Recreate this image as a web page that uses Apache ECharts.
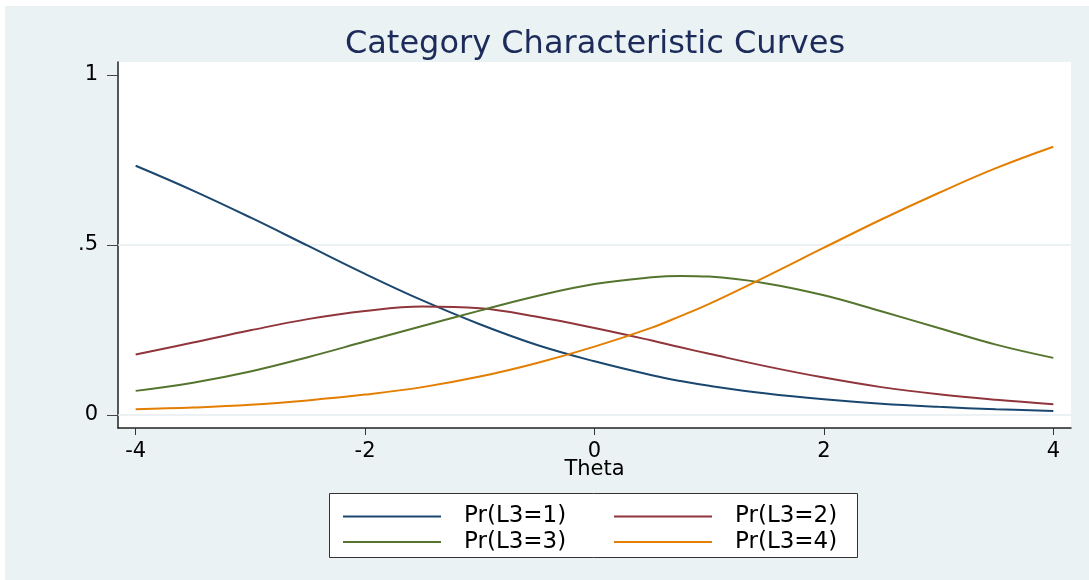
<!DOCTYPE html>
<html>
<head>
<meta charset="utf-8">
<script src="https://cdn.jsdelivr.net/npm/echarts@6/dist/echarts.min.js"></script>
<style>
  html, body { margin: 0; padding: 0; background: #ffffff; }
  #chart { width: 1089px; height: 580px; }
</style>
</head>
<body>
<div id="chart"></div>
<script>
// Ability grid (theta) and the four category probability curves
const theta = [-4, -3.5, -3, -2.5, -2, -1.5, -1, -0.5, 0, 0.5, 0.75, 1, 1.5, 2, 2.5, 3, 3.5, 4];
const prL3eq1 = [0.733, 0.660, 0.581, 0.498, 0.415, 0.337, 0.267, 0.206, 0.158, 0.117, 0.100, 0.086, 0.063, 0.046, 0.033, 0.024, 0.017, 0.012];
const prL3eq2 = [0.178, 0.213, 0.249, 0.282, 0.306, 0.319, 0.314, 0.289, 0.256, 0.219, 0.199, 0.180, 0.143, 0.110, 0.082, 0.061, 0.045, 0.032];
const prL3eq3 = [0.071, 0.095, 0.128, 0.170, 0.216, 0.262, 0.307, 0.350, 0.385, 0.405, 0.409, 0.407, 0.387, 0.352, 0.305, 0.256, 0.207, 0.168];
const prL3eq4 = [0.017, 0.022, 0.030, 0.043, 0.060, 0.082, 0.113, 0.153, 0.201, 0.257, 0.291, 0.327, 0.408, 0.492, 0.575, 0.653, 0.726, 0.789];

const seriesNames = ['Pr(L3=1)', 'Pr(L3=2)', 'Pr(L3=3)', 'Pr(L3=4)'];
const xTicks = [-4, -2, 0, 2, 4];
const yTicks = [0, 0.5, 1];
const yTickText = ['0', '.5', '1'];
const gridValues = [0, 0.5];

const colors = ['#1A476F', '#90353B', '#55752F', '#E37E00'];
const FONT = 'DejaVu Sans';

function pairs(ys) { return theta.map((t, i) => [t, ys[i]]); }

const curves = [prL3eq1, prL3eq2, prL3eq3, prL3eq4];

const series = curves.map((ys, i) => {
  const s = {
    name: seriesNames[i],
    type: 'line',
    data: pairs(ys),
    smooth: 0.4,
    symbol: 'none',
    showSymbol: false,
    z: 3,
    lineStyle: { color: colors[i], width: 2 },
    itemStyle: { color: colors[i] }
  };
  if (i === 0) {
    s.markLine = {
      silent: true,
      symbol: 'none',
      z: 1,
      label: { show: false },
      lineStyle: { color: '#E6EEF1', width: 1.5, type: 'solid' },
      emphasis: { disabled: true },
      data: gridValues.map(v => ({ yAxis: v }))
    };
  }
  return s;
});

// One legend per entry so the two columns line up
const legendSlots = [[342, 505], [613, 505], [342, 530.5], [613, 530.5]];
const legends = seriesNames.map((name, i) => ({
  data: [name],
  left: legendSlots[i][0],
  top: legendSlots[i][1],
  padding: 0,
  itemWidth: 98,
  itemHeight: 14,
  selectedMode: false,
  itemStyle: { color: 'transparent', borderColor: 'transparent', borderWidth: 0, opacity: 0 },
  lineStyle: { width: 2 },
  textStyle: { fontFamily: FONT, fontSize: 23, color: '#000', padding: [0, 0, 0, 18] }
}));

const chart = echarts.init(document.getElementById('chart'), null, { renderer: 'canvas' });
chart.setOption({
  backgroundColor: '#ffffff',
  animation: false,
  color: colors,
  title: {
    text: 'Category Characteristic Curves',
    left: 595,
    top: 29,
    padding: 0,
    textAlign: 'center',
    textStyle: { fontFamily: FONT, fontSize: 32, fontWeight: 'normal', color: '#1C2B59' }
  },
  graphic: [
    {
      type: 'rect', z: -100, silent: true,
      shape: { x: 5, y: 6, width: 1084, height: 574 },
      style: { fill: '#EAF2F3' }
    },
    {
      type: 'rect', z: 1, silent: true,
      shape: { x: 329.5, y: 493.5, width: 528, height: 64 },
      style: { fill: '#ffffff', stroke: '#333333', lineWidth: 1 }
    }
  ],
  legend: legends,
  grid: {
    left: 118, right: 18, top: 62, bottom: 152,
    show: true, backgroundColor: '#ffffff', borderWidth: 0,
    containLabel: false
  },
  xAxis: {
    type: 'value',
    min: -4.154, max: 4.154,
    name: 'Theta',
    nameLocation: 'middle',
    nameGap: 31,
    nameMoveOverlap: false,
    nameTextStyle: { fontFamily: FONT, fontSize: 21, color: '#000' },
    axisLine: { show: true, onZero: false, lineStyle: { color: '#222', width: 1.5 } },
    axisTick: { show: true, customValues: xTicks, length: 7, lineStyle: { color: '#333', width: 1 } },
    axisLabel: { customValues: xTicks, margin: 13, fontFamily: FONT, fontSize: 21, color: '#000' },
    splitLine: { show: false }
  },
  yAxis: {
    type: 'value',
    min: -0.0382, max: 1.0382,
    axisLine: { show: true, onZero: false, lineStyle: { color: '#222', width: 1.5 } },
    axisTick: { show: true, customValues: yTicks, length: 11, lineStyle: { color: '#444', width: 1 } },
    axisLabel: {
      customValues: yTicks, margin: 20, fontFamily: FONT, fontSize: 21, color: '#000',
      formatter: v => yTickText[yTicks.indexOf(v)] ?? String(v)
    },
    splitLine: { show: false }
  },
  series: series
});
</script>
</body>
</html>
